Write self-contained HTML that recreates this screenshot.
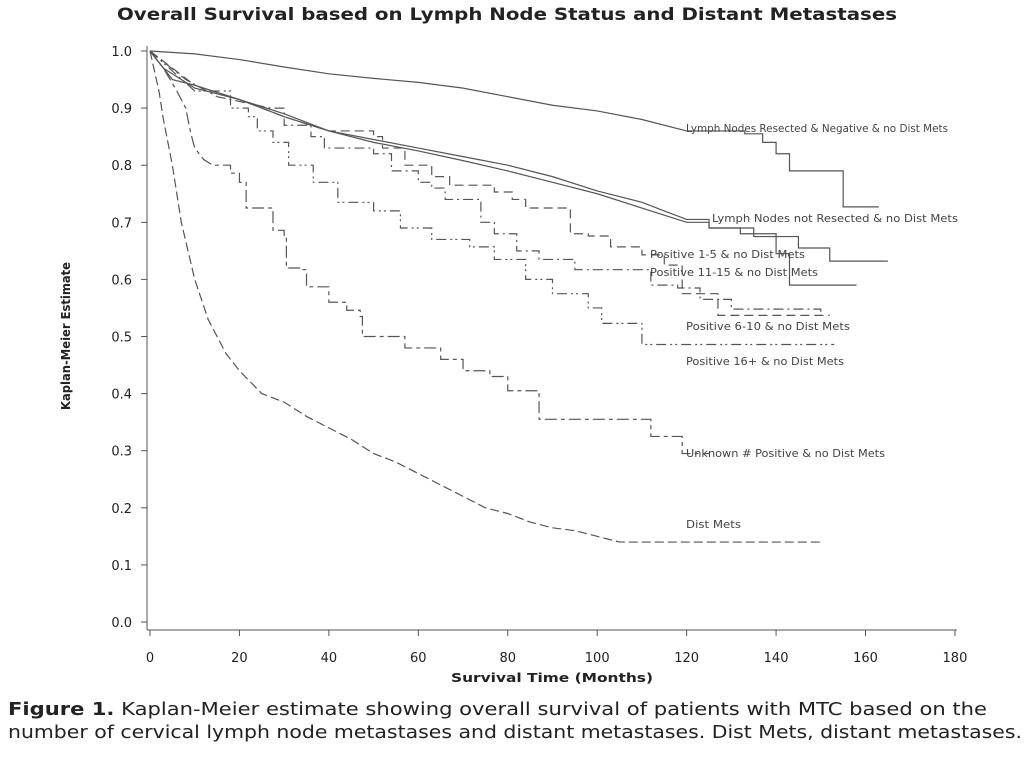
<!DOCTYPE html>
<html><head><meta charset="utf-8"><style>
body{margin:0;background:#fff;width:1024px;height:768px;overflow:hidden;font-family:"Liberation Sans",sans-serif}
</style></head><body>
<svg id="chart" width="1024" height="768" style="position:absolute;left:0;top:0" font-family="DejaVu Sans, Liberation Sans, sans-serif"></svg>
<script>
const xTicks=[0,20,40,60,80,100,120,140,160,180];
const yTicks=[0,0.1,0.2,0.3,0.4,0.5,0.6,0.7,0.8,0.9,1.0];
const seriesNames=["negative","notResected","pos1to5","pos11to15","pos6to10","pos16plus","unknown","distMets"];
const negative=[[0,1],[10,0.995],[20,0.985],[30,0.972],[40,0.96],[50,0.952],[60,0.945],[70,0.935],[80,0.92],[90,0.905],[100,0.895],[110,0.88],[120,0.86],[133,0.855],[137,0.84],[140,0.82],[143,0.79],[155,0.727],[163,0.727]];
const notResected=[[0,1],[3,0.97],[5,0.96],[10,0.935],[20,0.915],[30,0.89],[40,0.86],[50,0.845],[60,0.83],[70,0.815],[80,0.8],[90,0.78],[100,0.755],[110,0.735],[115,0.72],[120,0.705],[125,0.69],[135,0.675],[145,0.655],[152,0.632],[165,0.632]];
const pos1to5=[[0,1],[5,0.95],[10,0.94],[20,0.915],[30,0.885],[40,0.86],[50,0.84],[60,0.825],[70,0.808],[80,0.79],[90,0.77],[100,0.75],[110,0.725],[120,0.7],[125,0.69],[132,0.68],[140,0.645],[143,0.59],[158,0.59]];
const pos11to15=[[0,1],[10,0.94],[20,0.915],[30,0.885],[40,0.86],[50,0.85],[52,0.83],[57,0.8],[63,0.78],[67,0.765],[77,0.753],[81,0.74],[84,0.725],[94,0.68],[98,0.676],[103,0.657],[110,0.643],[115,0.625],[119,0.575],[127,0.537],[152,0.537]];
const pos6to10=[[0,1],[8,0.95],[15,0.92],[27,0.9],[30,0.87],[36,0.85],[39,0.83],[50,0.82],[54,0.79],[60,0.77],[63,0.76],[66,0.74],[74,0.7],[77,0.68],[82,0.65],[87,0.635],[95,0.617],[112,0.59],[118,0.585],[123,0.565],[130,0.548],[150,0.537]];
const pos16plus=[[0,1],[10,0.93],[18,0.9],[22,0.885],[24,0.86],[27.5,0.84],[31,0.8],[36.5,0.77],[42,0.735],[50,0.72],[56,0.69],[63,0.67],[71.5,0.657],[77,0.635],[84,0.6],[90,0.575],[98,0.55],[101,0.523],[110,0.486],[153,0.486]];
const unknown=[[0,1],[3,0.97],[6,0.93],[8,0.9],[9,0.86],[10,0.83],[12,0.81],[14,0.8],[18,0.786],[20,0.77],[21.5,0.725],[27.5,0.686],[30,0.675],[30.5,0.62],[34,0.617],[35,0.587],[40,0.56],[44,0.546],[47,0.535],[47.5,0.5],[57,0.48],[65,0.46],[70,0.44],[76,0.43],[80,0.405],[87,0.355],[112,0.325],[119,0.295],[125,0.295]];
const distMets=[[0,1],[2,0.93],[3,0.88],[5,0.8],[7,0.7],[10,0.6],[13,0.53],[17,0.47],[20,0.44],[25,0.4],[30,0.385],[35,0.36],[40,0.34],[45,0.32],[50,0.295],[55,0.28],[60,0.26],[65,0.24],[70,0.22],[75,0.2],[80,0.19],[85,0.175],[90,0.165],[95,0.16],[100,0.15],[105,0.14],[150,0.14]];
const smoothUntil=[120,120,120,40,27,10,14,105];
const dashes=["","","","9,5","10,4,2,4","10,4,2,3,2,4","12,4,4,4","9,4"];
const labels=[["Lymph Nodes Resected & Negative & no Dist Mets",686,132,262],["Lymph Nodes not Resected & no Dist Mets",712,222,246],["Positive 1-5 & no Dist Mets",650,258,155],["Positive 11-15 & no Dist Mets",650,276,168],["Positive 6-10 & no Dist Mets",686,330,164],["Positive 16+ & no Dist Mets",686,365,158],["Unknown # Positive & no Dist Mets",686,457,199],["Dist Mets",686,528,55]];
const X=m=>150+m*4.472, Y=s=>622-s*571;
const svg=document.getElementById('chart'),NS="http://www.w3.org/2000/svg";
function mk(t,a,txt){const e=document.createElementNS(NS,t);for(const k in a)e.setAttribute(k,a[k]);if(txt!==undefined)e.textContent=txt;svg.appendChild(e);return e;}
let e=mk('text',{x:117,y:20,'font-size':17,'font-weight':'bold',fill:'#222',textLength:780,lengthAdjust:'spacingAndGlyphs'},'Overall Survival based on Lymph Node Status and Distant Metastases');


e=mk('line',{x1:147,y1:46,x2:147,y2:630,stroke:'#555'});


e=mk('line',{x1:147,y1:630,x2:957,y2:630,stroke:'#555'});


yTicks.forEach(v=>{mk('line',{x1:141,y1:Y(v),x2:147,y2:Y(v),stroke:'#555'});
 e=mk('text',{x:132,y:Y(v)+5,'text-anchor':'end','font-size':13,fill:'#222'},v.toFixed(1));
 
 });
xTicks.forEach(v=>{mk('line',{x1:X(v),y1:630,x2:X(v),y2:636,stroke:'#555'});
 e=mk('text',{x:X(v),y:662,'text-anchor':'middle','font-size':13,fill:'#222'},v);
 
 });
e=mk('text',{x:451,y:682,'font-size':12,'font-weight':'bold',fill:'#222',textLength:202,lengthAdjust:'spacingAndGlyphs'},'Survival Time (Months)');


e=mk('text',{x:0,y:0,transform:'translate(70,336) rotate(-90)','text-anchor':'middle','font-size':12,'font-weight':'bold',fill:'#222',textLength:148,lengthAdjust:'spacingAndGlyphs'},'Kaplan-Meier Estimate');


const all=[negative,notResected,pos1to5,pos11to15,pos6to10,pos16plus,unknown,distMets];
all.forEach((s,i)=>{let d='M'+X(s[0][0])+','+Y(s[0][1]);
 for(let j=1;j<s.length;j++){
  if(s[j][0]<=smoothUntil[i] && j<s.length-1) d+=' L'+X(s[j][0])+','+Y(s[j][1]);
  else d+=' H'+X(s[j][0])+' V'+Y(s[j][1]);}
 const p=mk('path',{d:d,fill:'none',stroke:'#555','stroke-width':1.2,'stroke-dasharray':dashes[i]});
 
 });
labels.forEach(l=>{e=mk('text',{x:l[1],y:l[2],'font-size':10.5,fill:'#444',textLength:l[3],lengthAdjust:'spacingAndGlyphs'},l[0]);
 
 });
e=mk('text',{x:8,y:715,'font-size':18,fill:'#222',textLength:979,lengthAdjust:'spacingAndGlyphs'});
e.innerHTML='<tspan font-weight="bold">Figure 1.</tspan>  Kaplan-Meier estimate showing overall survival of patients with MTC based on the';


e=mk('text',{x:8,y:738,'font-size':18,fill:'#222',textLength:1014,lengthAdjust:'spacingAndGlyphs'},'number of cervical lymph node metastases and distant metastases. Dist Mets, distant metastases.');


</script>
</body></html>
